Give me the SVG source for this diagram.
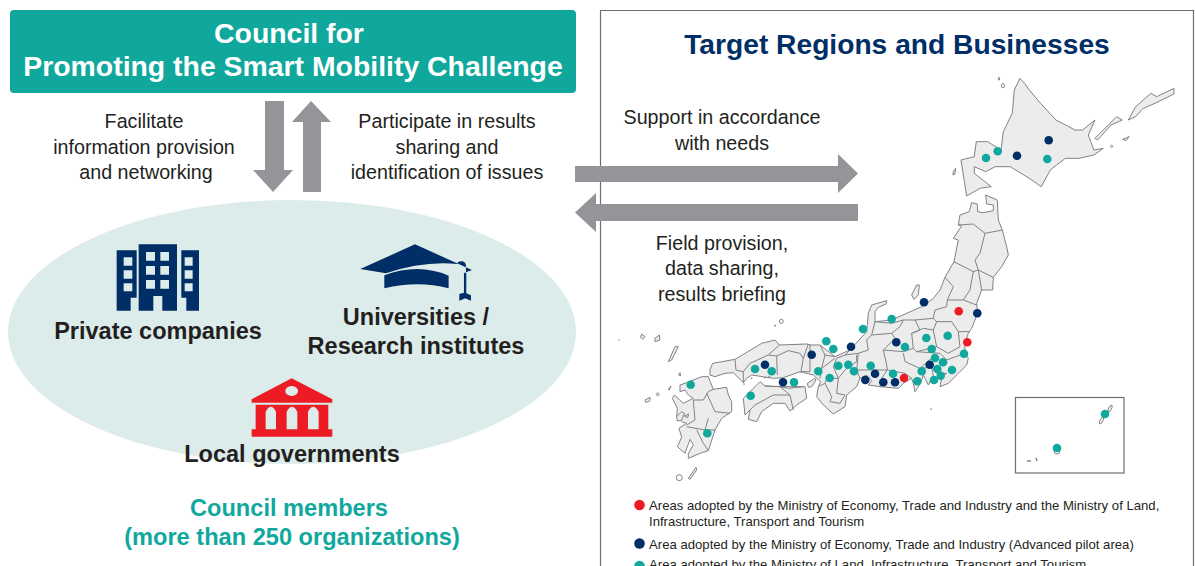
<svg xmlns="http://www.w3.org/2000/svg" width="1195" height="566" viewBox="0 0 1195 566">
<style>
text{font-family:"Liberation Sans",Arial,sans-serif;fill:#231f20}
.m{text-anchor:middle}
.l{font-size:19.700px}
.b{font-size:23.500px;font-weight:bold}
.t{font-size:13.150px}
.h{font-size:28.400px;font-weight:bold;fill:#fff}
.c{font-size:23.600px;font-weight:bold;fill:#10a89d}
.land{fill:#ececed;stroke:#808285;stroke-width:3;stroke-linejoin:round}
.isl{fill:#fff;stroke:#808285;stroke-width:3}
.isl1{fill:#fff;stroke:#808285;stroke-width:1}
.bd{fill:none;stroke:#808285;stroke-width:3;stroke-linejoin:round}
.arr{fill:#939598}
.r{fill:#ed1c24}.n{fill:#002e66}.g{fill:#10a89d}
</style>
<defs>
<circle id="d" r="4.300"/>
</defs>
<rect width="1195" height="566" fill="#fff"/>
<g id="panel">
<path d="M600.500 566V10.500H1193.500V566" fill="#fff" stroke="#6d6e71" stroke-width="1.200"/>
<text x="897" y="54" class="m" style="font-size:28.200px;font-weight:bold;fill:#002e66">Target Regions and Businesses</text>
</g>
<g id="council">
<rect x="10" y="10" width="566" height="83" rx="4" fill="#10a89d"/>
<text x="289" y="43" class="m h">Council for</text>
<text x="293" y="76" class="m h">Promoting the Smart Mobility Challenge</text>
</g>
<g id="members">
<ellipse cx="292" cy="332" rx="284" ry="132" fill="#dcecea"/>
<text x="289" y="516" class="m c">Council members</text>
<text x="292" y="545" class="m c">(more than 250 organizations)</text>
</g>
<g id="private-companies">
<g transform="translate(90 230) scale(.3333)" fill="#002e66">
<path fill-rule="evenodd" d="M146 43H261V242H217V198H190V242H146ZM168 66V92H195V66ZM211 66V92H237V66ZM168 108V134H195V108ZM211 108V134H237V108ZM168 150V176H195V150ZM211 150V176H237V150Z"/>
<path fill-rule="evenodd" d="M80 61H140V203H122V242H80ZM101 82V107H127V82ZM101 121V146H127V121ZM101 160V184H127V160Z"/>
<path fill-rule="evenodd" d="M274 61H327V242H289V203H274ZM284 82V107H308V82ZM284 121V146H308V121ZM284 160V184H308V160Z"/>
</g>
<text x="158" y="339" class="m b">Private companies</text>
</g>
<g id="universities">
<g transform="translate(90 230) scale(.3333)" fill="#002e66">
<path d="M975 43L1146 120L1128 127V108Q1128 94 1114 94Q1102 95 1101 102Q1000 92 888 130L811 117Z"/>
<path d="M883 136Q985 98 1076 137V175Q985 150 883 175Z"/>
<path d="M1122 128H1129V190L1143 196V212L1126 205L1108 212V192L1122 188Z"/>
<ellipse cx="1117" cy="120" rx="8" ry="5" fill="#dcecea"/>
</g>
<text x="416" y="325" class="m b">Universities /</text>
<text x="416" y="354" class="m b">Research institutes</text>
</g>
<g id="local-governments">
<g transform="translate(90 230) scale(.3333)" fill="#ed1c24">
<path fill-rule="evenodd" d="M605 445L727 508V518H485V508ZM605 468A19 15 0 1 0 605.100 468Z"/>
<path fill-rule="evenodd" d="M497 524H715V598H727V620H485V598H497ZM527 598H558V545Q543 515 527 545ZM590 598H622V545Q606 515 590 545ZM654 598H686V545Q670 515 654 545Z"/>
</g>
<text x="292" y="462" class="m b">Local governments</text>
</g>
<g id="connectors">
<path class="arr" d="M265 101H284V170H293L273 192L253 170H265Z"/>
<path class="arr" d="M311 101L331 122H321V192H303V122H292Z"/>
<path class="arr" d="M575 166H838V154L858 173.500L838 193V182H575Z"/>
<path class="arr" d="M858 204H596V193L575 212.500L596 232V221H858Z"/>
</g>
<g id="labels">
<text x="144" y="128" class="m l">Facilitate</text>
<text x="144" y="153.500" class="m l">information provision</text>
<text x="146" y="179" class="m l">and networking</text>
<text x="447" y="128" class="m l">Participate in results</text>
<text x="447" y="153.500" class="m l">sharing and</text>
<text x="447" y="179" class="m l">identification of issues</text>
<text x="722" y="124" class="m l">Support in accordance</text>
<text x="722" y="149.500" class="m l">with needs</text>
<text x="722" y="250" class="m l">Field provision,</text>
<text x="722" y="275" class="m l">data sharing,</text>
<text x="722" y="300.500" class="m l">results briefing</text>
</g>
<g id="map">
<g transform="translate(610 280) scale(.3333)">
<path class="land" d="M1230 -605L1244 -590L1258 -570L1292 -530L1338 -480L1365 -466L1395 -450L1418 -450L1455 -480L1435 -435L1452 -390L1480 -395L1452 -375L1407 -365L1366 -365L1340 -345L1321 -330L1294 -280L1258 -305L1201 -340L1156 -340L1127 -325L1093 -340L1093 -320L1144 -280L1110 -275L1070 -252L1064 -290L1053 -360L1093 -370L1099 -415L1133 -415L1173 -390L1180 -445L1207 -500L1213 -570Z"/>
<path class="land" d="M1455 -425L1520 -490L1537 -480L1503 -465L1463 -420ZM1555 -480L1577 -520L1623 -560L1640 -550L1692 -575L1692 -558L1635 -530L1600 -515L1577 -490ZM1538 -422L1558 -430L1548 -418ZM1030 -325L1037 -335L1035 -318L1029 -315Z"/>
<ellipse class="isl" cx="1179" cy="-583" rx="5" ry="6"/>
<ellipse class="isl" cx="1167" cy="-604" rx="2" ry="5"/>
<circle class="isl" cx="1505" cy="-401" r="3"/>
</g>
<g transform="translate(800 290) scale(.3333)">
<!-- Honshu east and central -->
<path class="land" d="M515 -262L532 -258L533 -235L550 -232L580 -238L580 -255L560 -258L557 -285L592 -270L595 -210L607 -180L620 -130L625 -105L605 -70L580 -38L578 0L545 0L530 40L533 70L515 115L505 130L495 160L495 190L505 205L500 225L475 250L445 280L420 290L425 265L440 250L410 250L395 232L400 255L385 285L370 255L362 280L345 305L340 280L335 265L310 280L296 295L240 290L205 285L215 272L200 255L180 265L170 290L140 315L135 350L100 372L70 345L50 320L55 290L62 275L40 255L0 245L-30 245L-30 165L0 165L60 165L105 200L150 180L200 125L205 70L215 45L260 32L258 42L235 52L225 65L225 95L275 90L365 50L400 25L420 0L435 -38L462 -85L475 -150L460 -155L485 -192L475 -195L480 -225L508 -235Z"/>
<path class="bd" d="M475 -195L520 -198L555 -170L607 -180M555 -170L540 -110L525 -90L535 -60L520 -55L462 -85M535 -60L580 -38M520 -55L510 0L490 30L442 30L460 -10L435 -38M490 30L530 45M545 0L535 -60M442 30L440 50L405 60L400 85L410 95L455 95L475 125L510 125M225 95L215 135L275 130L300 110L310 90L345 90L400 85M310 90L275 100L225 95M345 90L360 120L335 130L340 175L310 185L250 180L285 145L275 130M335 130L370 115L400 120L410 95M400 120L410 170L350 185L340 175M475 125L480 170L445 190L410 170M350 185L420 190L440 210L495 190M310 190L315 215L360 235L400 200M360 235L395 232M250 180L260 225L262 240L200 240L170 240L175 190L205 180L200 150L215 135M175 190L135 195L150 180M262 240L245 265L240 290M262 240L315 250L335 265M135 195L110 205L100 230L115 265L135 240L170 215L170 195M170 240L180 265M60 165L75 195L105 200M75 195L65 235L60 265M105 205L65 235M-2 190L-2 240M80 265L115 265L110 310L135 315M80 265L75 280L95 320L90 335L120 340L135 315M55 290L75 280"/>
</g>
<g transform="translate(640 330) scale(.3333)">
<path class="land" d="M210 118L218 100L285 88L365 40L405 30L418 45L500 42L510 44L510 125L480 125L430 143L400 145L335 135L320 145L310 158L280 128L255 130L225 140L210 135Z"/>
<path class="bd" d="M285 88L288 120L310 125L310 158M310 125L330 100L385 75L410 78L412 135M385 75L418 45M410 78L445 62L480 70L490 85L483 125M490 85L505 42"/>
<path class="land" d="M310 205L345 170L360 155L375 168L420 170L495 170L500 205L470 225L450 243L435 220L400 220L365 245L350 275L325 268L330 240L315 255L312 225Z"/>
<path class="bd" d="M375 168L420 170L450 195L400 195L345 225L330 240M450 195L460 240M420 170L445 175L490 170"/>
<path class="land" d="M120 165L140 158L185 140L205 140L220 178L260 172L265 195L275 215L275 245L245 265L225 300L205 362L185 368L145 385L145 370L160 345L150 328L135 370L112 350L125 322L117 295L140 280L125 275L110 260L112 235L97 205L103 195L130 220L160 205L145 195L135 180L120 185Z"/>
<path class="bd" d="M160 210L190 210L205 185L220 178M200 190L225 245L270 250M205 265L195 300L225 300M195 300L140 290M140 285L165 270L160 210M170 300L190 340L205 362"/>
<path class="land" d="M85 95L105 50L115 50L95 90ZM45 25L58 15L60 30L45 35ZM5 12L15 20L8 28L2 22ZM115 135L120 128L122 137ZM85 178L93 168L88 180ZM15 210L30 202L30 212L18 218ZM110 260L125 245L133 250L125 270L112 273ZM133 258L146 252L143 263ZM145 445L168 412L170 420L150 448Z"/>
<circle class="isl" cx="118" cy="443" r="9"/>
<circle class="isl" cx="53" cy="193" r="4"/>
<circle cx="312" cy="162" r="2.500" fill="#808285"/><circle cx="335" cy="145" r="2.500" fill="#808285"/><circle cx="375" cy="143" r="2.500" fill="#808285"/><circle cx="388" cy="140" r="2.500" fill="#808285"/>
</g>
<g transform="translate(800 290) scale(.3333)">
<path class="land" d="M22 280L45 265L48 270L35 290L25 292ZM335 15L350 -15L358 -15L355 15L342 28Z"/>
<circle cx="393" cy="357" r="2.500" fill="#808285"/>
</g>
<g transform="translate(610 280) scale(.3333)">
<circle class="isl" cx="514" cy="124" r="6"/>
<circle cx="495" cy="137" r="3" fill="#808285"/><circle cx="27" cy="180" r="2" fill="#808285"/>
</g>
<g id="region-dots" transform="translate(610 280)">
<g class="r">
<use href="#d" x="348.700" y="31.300"/><use href="#d" x="357.300" y="62.300"/><use href="#d" x="294" y="98"/>
</g>
<g class="n">
<use href="#d" x="314" y="22.300"/><use href="#d" x="367.300" y="33.300"/><use href="#d" x="286.300" y="62.300"/><use href="#d" x="241" y="66.700"/><use href="#d" x="201.700" y="74.700"/><use href="#d" x="155" y="84.700"/><use href="#d" x="265" y="93.700"/><use href="#d" x="255.300" y="100"/><use href="#d" x="273.300" y="102.300"/><use href="#d" x="285" y="102.300"/><use href="#d" x="319.700" y="84.700"/><use href="#d" x="173" y="102.300"/>
</g>
<g class="g">
<use href="#d" x="281.700" y="39"/><use href="#d" x="253" y="49"/><use href="#d" x="216.300" y="61.300"/><use href="#d" x="223.300" y="69"/><use href="#d" x="316.300" y="58"/><use href="#d" x="337.700" y="55.700"/><use href="#d" x="295" y="67"/><use href="#d" x="321.700" y="69"/><use href="#d" x="354" y="73.700"/><use href="#d" x="325" y="78"/><use href="#d" x="333" y="82.300"/><use href="#d" x="327.300" y="89"/><use href="#d" x="342" y="90"/><use href="#d" x="330.700" y="95.700"/><use href="#d" x="324" y="100"/><use href="#d" x="311.700" y="91.300"/><use href="#d" x="307.300" y="101.300"/><use href="#d" x="283" y="93.700"/><use href="#d" x="260.700" y="85.700"/><use href="#d" x="228.300" y="85.700"/><use href="#d" x="238.300" y="84.700"/><use href="#d" x="244" y="91.300"/><use href="#d" x="208.300" y="91.300"/><use href="#d" x="219.700" y="98"/><use href="#d" x="184" y="102.300"/><use href="#d" x="161.700" y="91.300"/><use href="#d" x="145" y="89"/><use href="#d" x="140.700" y="115.700"/><use href="#d" x="80.700" y="104.700"/><use href="#d" x="97.300" y="153.300"/>
</g>
</g>
<g id="hokkaido-dots">
<use href="#d" x="1048.700" y="140.300" class="n"/><use href="#d" x="1017" y="155.700" class="n"/><use href="#d" x="997.700" y="151.300" class="g"/><use href="#d" x="986" y="158" class="g"/><use href="#d" x="1047.300" y="159" class="g"/>
</g>
</g>
<g id="inset">
<rect x="1015.500" y="397.500" width="108.500" height="75.500" fill="#fff" stroke="#6d6e71" stroke-width="1.200"/>
<ellipse cx="1110" cy="408.500" rx="1.300" ry="3.500" transform="rotate(30 1110 408.500)" class="isl1"/>
<ellipse cx="1101.500" cy="420.500" rx="1.300" ry="3.500" transform="rotate(30 1101.500 420.500)" class="isl1"/>
<circle cx="1057" cy="451" r="3" class="isl1"/>
<path d="M1027 461H1031M1036 458L1037 461" fill="none" stroke="#808285" stroke-width="1.500"/>
<circle cx="1105" cy="414" r="4.300" class="g"/>
<circle cx="1057" cy="448" r="4.300" class="g"/>
</g>
<g id="legend">
<circle cx="639.500" cy="505" r="5.300" class="r"/>
<circle cx="639.500" cy="543.500" r="5.300" class="n"/>
<circle cx="639.500" cy="566" r="5.300" class="g"/>
<text x="649" y="510" class="t">Areas adopted by the Ministry of Economy, Trade and Industry and the Ministry of Land,</text>
<text x="649" y="526" class="t">Infrastructure, Transport and Tourism</text>
<text x="649" y="549" class="t">Area adopted by the Ministry of Economy, Trade and Industry (Advanced pilot area)</text>
<text x="649" y="569" class="t">Area adopted by the Ministry of Land, Infrastructure, Transport and Tourism</text>
</g>
</svg>
